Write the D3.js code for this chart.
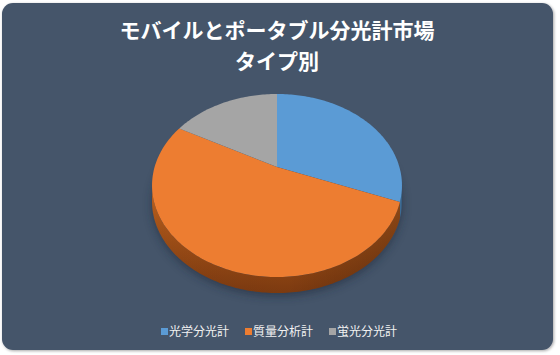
<!DOCTYPE html>
<html><head><meta charset="utf-8">
<script src="https://cdn.jsdelivr.net/npm/d3@7"></script>
<style>html,body{margin:0;padding:0;background:#fff;}svg{display:block;}</style>
</head><body>
<script>
const categories = ["光学分光計", "質量分析計", "蛍光分光計"];
const values = [31, 52, 17];
const colors = ["#5B9BD5", "#ED7D31", "#A5A5A5"];
const titleLines = ["モバイルとポータブル分光計市場", "タイプ別"];

const W = 560, H = 355;
const svg = d3.select("body").append("svg").attr("width", W).attr("height", H);
const defs = svg.append("defs");

const f1 = defs.append("filter").attr("id", "frameShadow").attr("x", "-5%").attr("y", "-5%").attr("width", "110%").attr("height", "110%");
f1.append("feGaussianBlur").attr("in", "SourceAlpha").attr("stdDeviation", 1.5);
f1.append("feOffset").attr("dx", 1).attr("dy", 1).attr("result", "ob");
f1.append("feComponentTransfer").append("feFuncA").attr("type", "linear").attr("slope", 0.35);
const fm = f1.append("feMerge"); fm.append("feMergeNode"); fm.append("feMergeNode").attr("in", "SourceGraphic");

svg.append("rect").attr("x", 2).attr("y", 3).attr("width", 551).attr("height", 347)
  .attr("rx", 11).attr("fill", "#44546A").attr("filter", "url(#frameShadow)");

// title
const title = svg.append("text").attr("text-anchor", "middle")
  .attr("font-family", "'Noto Sans CJK JP', sans-serif").attr("font-weight", "bold")
  .attr("font-size", 21).attr("fill", "#ffffff");
titleLines.forEach((t, i) => title.append("tspan").attr("x", 277).attr("y", 38 + i * 31).text(t));

// 3D perspective pie
const cx = 277, cy = 167, A = 122.4, B = 87.8, k = 0.202, depth = 16;
function proj(phi, dz) {
  const w = 1 + k * Math.cos(phi);
  return [cx + A * Math.sin(phi) / w, cy - B * Math.cos(phi) / w + dz];
}
const pie = d3.pie().sort(null).startAngle(0).endAngle(2 * Math.PI)(values);
const line = d3.line();
function arcPts(a0, a1, dz) {
  const n = Math.max(2, Math.ceil((a1 - a0) / 0.02));
  return d3.range(n + 1).map(i => proj(a0 + (a1 - a0) * i / n, dz));
}

// shadow
const sf = defs.append("filter").attr("id", "pieShadow").attr("x", "-20%").attr("y", "-20%").attr("width", "140%").attr("height", "140%");
sf.append("feGaussianBlur").attr("stdDeviation", 5);
const phiL = Math.acos(-k), phiR = 2 * Math.PI - phiL;
const shadowPts = arcPts(0, 2 * Math.PI, depth + 3);
svg.append("path").attr("d", line(shadowPts) + "Z").attr("fill", "#1e2838").attr("opacity", 0.55)
  .attr("filter", "url(#pieShadow)");

// side gradient
const sideG = defs.append("linearGradient").attr("id", "sideGrad").attr("x1", 0).attr("y1", 0).attr("x2", 0).attr("y2", 1);
sideG.append("stop").attr("offset", "0%").attr("stop-color", "#C8661F");
sideG.append("stop").attr("offset", "100%").attr("stop-color", "#7C3A10");
const sideGH = defs.append("linearGradient").attr("id", "sideGradH").attr("x1", 0).attr("y1", 0).attr("x2", 1).attr("y2", 0);
sideGH.append("stop").attr("offset", "0%").attr("stop-color", "#000").attr("stop-opacity", 0.05);
sideGH.append("stop").attr("offset", "55%").attr("stop-color", "#000").attr("stop-opacity", 0.0);
sideGH.append("stop").attr("offset", "100%").attr("stop-color", "#000").attr("stop-opacity", 0.25);

const sideColors = ["#3F6E98", "url(#sideGrad)", "#767676"];
pie.forEach((d, i) => {
  const a0 = Math.max(d.startAngle, phiL), a1 = Math.min(d.endAngle, phiR);
  if (a1 <= a0) return;
  const top = arcPts(a0, a1, 0), bot = arcPts(a0, a1, depth).reverse();
  const p = line(top.concat(bot)) + "Z";
  svg.append("path").attr("d", p).attr("fill", sideColors[i]);
  svg.append("path").attr("d", p).attr("fill", "url(#sideGradH)");
});

// top faces
pie.forEach((d, i) => {
  const pts = [[cx, cy]].concat(arcPts(d.startAngle, d.endAngle, 0));
  svg.append("path").attr("d", line(pts) + "Z").attr("fill", colors[i]);
});

// legend
const legendX = [161, 245, 329];
const lg = svg.append("g").attr("font-family", "'Noto Sans CJK JP', sans-serif").attr("font-size", 12).attr("fill", "#F2F2F2");
categories.forEach((c, i) => {
  lg.append("rect").attr("x", legendX[i]).attr("y", 328).attr("width", 7).attr("height", 7).attr("fill", colors[i]);
  lg.append("text").attr("x", legendX[i] + 8).attr("y", 336).text(c);
});
</script>
</body></html>
